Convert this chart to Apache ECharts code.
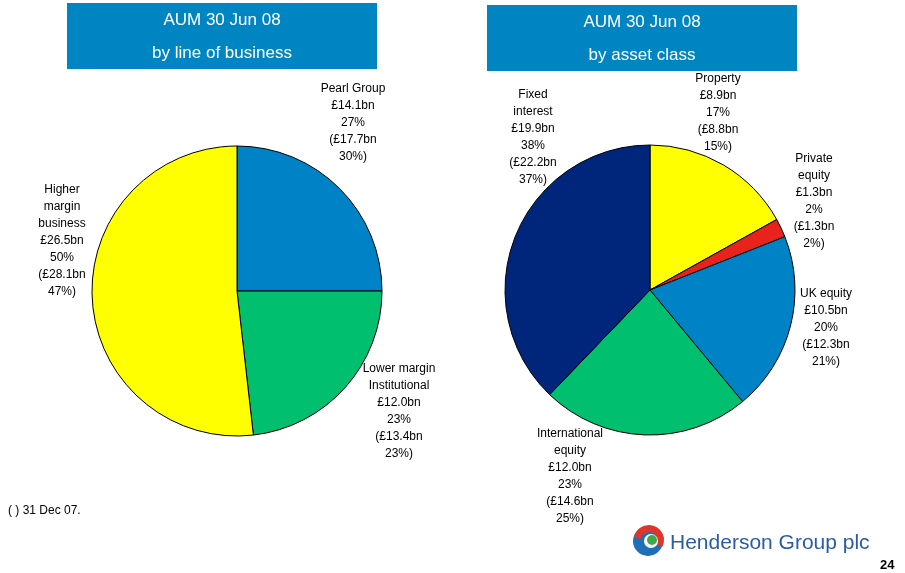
<!DOCTYPE html>
<html>
<head>
<meta charset="utf-8">
<script src="https://cdn.jsdelivr.net/npm/echarts@6/dist/echarts.min.js"></script>
<style>
  html, body { margin: 0; padding: 0; background: #fff; }
  #chart { width: 905px; height: 573px; }
</style>
</head>
<body>
<div id="chart"></div>
<script>
// AUM 30 Jun 08 by line of business
const businessNames  = ['Pearl Group', 'Lower margin\nInstitutional', 'Higher\nmargin\nbusiness'];
const businessSlices = [25.0, 23.2, 51.8];   // slice shares as drawn in the picture
const businessValues = [14.1, 12.0, 26.5];   // £bn, as labelled
const businessPct    = [27, 23, 50];
const businessPrior  = [17.7, 13.4, 28.1];   // 31 Dec 07
const businessPriorPct = [30, 23, 47];
const businessColors = ['#0083C6', '#00BF6F', '#FFFF00'];

// AUM 30 Jun 08 by asset class
const assetNames  = ['Property', 'Private\nequity', 'UK equity', 'International\nequity', 'Fixed\ninterest'];
const assetSlices = [8.9, 1.1, 10.5, 12.2, 19.9];
const assetValues = [8.9, 1.3, 10.5, 12.0, 19.9];
const assetPct    = [17, 2, 20, 23, 38];
const assetPrior  = [8.8, 1.3, 12.3, 14.6, 22.2];
const assetPriorPct = [15, 2, 21, 25, 37];
const assetColors = ['#FFFF00', '#E8231E', '#0083C6', '#00BF6F', '#00267C'];

// label anchor points (centre of each text block)
const businessLabelPos = [[353, 123], [399, 411], [62, 241]];
const assetLabelPos    = [[718, 113], [814, 201], [826, 328], [570, 476], [533, 137]];

const fmt = v => v.toFixed(1);

function buildData(names, slices, values, pct, prior, priorPct, colors) {
  return names.map((n, i) => ({
    name: n,
    value: slices[i],
    itemStyle: { color: colors[i] },
    label: {
      formatter: `${n}\n£${fmt(values[i])}bn\n${pct[i]}%\n(£${fmt(prior[i])}bn\n${priorPct[i]}%)`
    }
  }));
}

const labelStyle = {
  show: true,
  color: '#000',
  fontFamily: 'Liberation Sans, Arial, sans-serif',
  fontSize: 12,
  lineHeight: 17,
  align: 'center'
};

const chart = echarts.init(document.getElementById('chart'), null, { renderer: 'canvas' });

chart.setOption({
  animation: false,
  backgroundColor: '#fff',
  graphic: [
    { type: 'rect', shape: { x: 67, y: 3, width: 310, height: 66 }, style: { fill: '#0085C3' } },
    { type: 'text', x: 222, y: 20, style: { text: 'AUM 30 Jun 08', fill: '#fff', font: '17px Liberation Sans, Arial', align: 'center', verticalAlign: 'middle' } },
    { type: 'text', x: 222, y: 53, style: { text: 'by line of business', fill: '#fff', font: '17px Liberation Sans, Arial', align: 'center', verticalAlign: 'middle' } },
    { type: 'rect', shape: { x: 487, y: 5, width: 310, height: 66 }, style: { fill: '#0085C3' } },
    { type: 'text', x: 642, y: 22, style: { text: 'AUM 30 Jun 08', fill: '#fff', font: '17px Liberation Sans, Arial', align: 'center', verticalAlign: 'middle' } },
    { type: 'text', x: 642, y: 55, style: { text: 'by asset class', fill: '#fff', font: '17px Liberation Sans, Arial', align: 'center', verticalAlign: 'middle' } },
    { type: 'text', x: 8, y: 511, style: { text: '( ) 31 Dec 07.', fill: '#000', font: '12px Liberation Sans, Arial', verticalAlign: 'middle' } },
    // logo
    { type: 'circle', shape: { cx: 648, cy: 541, r: 15 }, style: { fill: '#1E6FB8' } },
    { type: 'sector', shape: { cx: 649, cy: 540, r: 15, r0: 8, startAngle: -Math.PI * 0.95, endAngle: Math.PI * 0.15 }, style: { fill: '#E0352B' } },
    { type: 'circle', shape: { cx: 651, cy: 541, r: 7 }, style: { fill: '#fff' } },
    { type: 'circle', shape: { cx: 652, cy: 540, r: 5 }, style: { fill: '#3DAA48' } },
    { type: 'text', x: 670, y: 543, style: { text: 'Henderson Group plc', fill: '#2A5CA6', font: '21px Liberation Sans, Arial', verticalAlign: 'middle' } },
    { type: 'text', x: 880, y: 565, style: { text: '24', fill: '#000', font: 'bold 13px Liberation Sans, Arial', verticalAlign: 'middle' } }
  ],
  series: [
    {
      type: 'pie',
      center: [237, 291],
      radius: 145,
      startAngle: 90,
      clockwise: true,
      avoidLabelOverlap: false,
      itemStyle: { borderColor: '#000', borderWidth: 1 },
      label: labelStyle,
      labelLine: { show: false },
      emphasis: { disabled: true },
      labelLayout: p => ({
        x: businessLabelPos[p.dataIndex][0],
        y: businessLabelPos[p.dataIndex][1],
        align: 'center',
        verticalAlign: 'middle'
      }),
      data: buildData(businessNames, businessSlices, businessValues, businessPct, businessPrior, businessPriorPct, businessColors)
    },
    {
      type: 'pie',
      center: [650, 290],
      radius: 145,
      startAngle: 90,
      clockwise: true,
      avoidLabelOverlap: false,
      itemStyle: { borderColor: '#000', borderWidth: 1 },
      label: labelStyle,
      labelLine: { show: false },
      emphasis: { disabled: true },
      labelLayout: p => ({
        x: assetLabelPos[p.dataIndex][0],
        y: assetLabelPos[p.dataIndex][1],
        align: 'center',
        verticalAlign: 'middle'
      }),
      data: buildData(assetNames, assetSlices, assetValues, assetPct, assetPrior, assetPriorPct, assetColors)
    }
  ]
});
</script>
</body>
</html>
